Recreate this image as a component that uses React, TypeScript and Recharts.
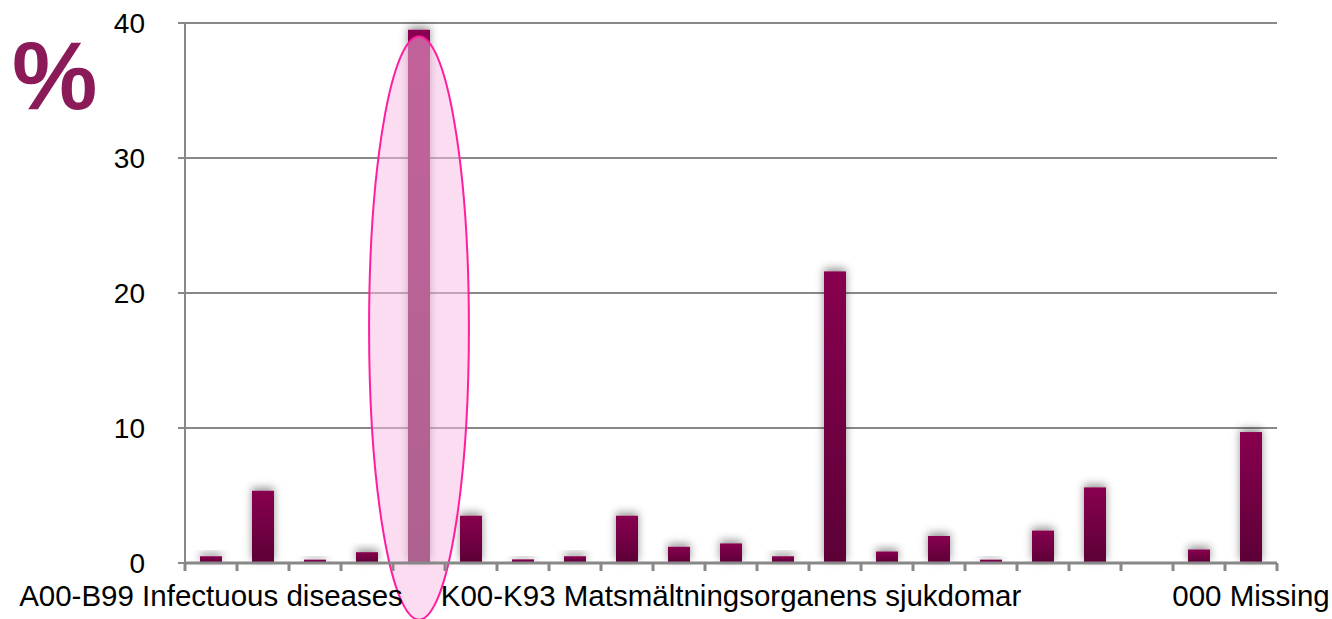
import React from "react";
import {
  BarChart,
  Bar,
  XAxis,
  YAxis,
  CartesianGrid,
  ReferenceArea,
} from "recharts";

// ICD chapter groups, in chart order
const categories = [
  "A00-B99 Infectuous diseases",
  "C00-D48",
  "D50-D89",
  "E00-E90",
  "F00-F99",
  "G00-G99",
  "H00-H59",
  "H60-H95",
  "I00-I99",
  "J00-J99",
  "K00-K93 Matsmältningsorganens sjukdomar",
  "L00-L99",
  "M00-M99",
  "N00-N99",
  "O00-O99",
  "P00-P96",
  "Q00-Q99",
  "R00-R99",
  "S00-T98",
  "V01-Y98",
  "000 Missing",
];

// share of cases, %
const percentages = [
  0.5, 5.35, 0.25, 0.8, 39.5, 3.5, 0.27, 0.5, 3.5, 1.2, 1.45, 0.5, 21.6, 0.85,
  2.0, 0.25, 2.4, 5.6, 0, 1.0, 9.7,
];

const yTicks = [0, 10, 20, 30, 40];

// every tenth category carries a text label
const labelEvery = 10;

// highlighted group and the vertical extent of its ring (in % units)
const highlightIndex = 4;
const ringRange = [-4.2, 39];

const data = categories.map((name, i) => ({ name, value: percentages[i] }));

const W = 1332;
const H = 619;
const LEFT = 185;
const RIGHT = 55;
const TOP = 23;
const X_AXIS_H = 56;
const BAND = (W - LEFT - RIGHT) / categories.length;

const GRID = "#888888";
const FONT = "'Liberation Sans', Arial, sans-serif";

const CategoryTick = (props: any) => {
  const { x, y, index } = props;
  const half = BAND / 2;
  const isLast = index === categories.length - 1;
  return (
    <g>
      <line x1={x - half} x2={x - half} y1={y} y2={y + 8} stroke={GRID} strokeWidth={3} />
      {isLast && (
        <line x1={x + half} x2={x + half} y1={y} y2={y + 8} stroke={GRID} strokeWidth={3} />
      )}
      {index % labelEvery === 0 && (
        <text
          x={x}
          y={y + 43}
          textAnchor="middle"
          fontSize={29.5}
          fontFamily={FONT}
          fill="#000"
        >
          {props.payload.value}
        </text>
      )}
    </g>
  );
};

const ShadowBar = (props: any) => {
  const { x, y, width, height } = props;
  if (!height || height <= 0) return null;
  return (
    <rect
      x={x}
      y={y}
      width={width}
      height={height}
      fill="url(#barFill)"
      filter="url(#barShadow)"
    />
  );
};

const Ring = (props: any) => {
  const { x, y, width, height } = props;
  return (
    <ellipse
      cx={x + width / 2}
      cy={y + height / 2}
      rx={width * 0.96}
      ry={height / 2}
      fill="rgba(250,188,226,0.52)"
      stroke="#ff1ea0"
      strokeWidth={2}
    />
  );
};

export default function App() {
  return (
    <div
      style={{
        position: "absolute",
        left: 0,
        top: 0,
        width: W,
        height: H,
        background: "#fff",
        fontFamily: FONT,
      }}
    >
      <BarChart
        width={W}
        height={H}
        data={data}
        margin={{ top: TOP, right: RIGHT, bottom: 0, left: 0 }}
        barSize={22}
      >
        <defs>
          <linearGradient id="barFill" x1="0" y1="0" x2="0" y2="1">
            <stop offset="0%" stopColor="#88004f" />
            <stop offset="100%" stopColor="#5c0036" />
          </linearGradient>
          <filter id="barShadow" x="-80%" y="-80%" width="260%" height="260%">
            <feGaussianBlur in="SourceAlpha" stdDeviation="4.5" />
            <feOffset dy="-3" result="blur" />
            <feFlood floodColor="#000" floodOpacity="0.42" />
            <feComposite in2="blur" operator="in" />
            <feMerge>
              <feMergeNode />
              <feMergeNode in="SourceGraphic" />
            </feMerge>
          </filter>
        </defs>
        <CartesianGrid vertical={false} stroke={GRID} strokeWidth={2} />
        <XAxis
          dataKey="name"
          interval={0}
          height={X_AXIS_H}
          tickLine={false}
          tickSize={0}
          tickMargin={0}
          axisLine={{ stroke: GRID, strokeWidth: 3 }}
          tick={<CategoryTick />}
        />
        <YAxis
          width={LEFT}
          domain={[0, 40]}
          ticks={yTicks}
          interval={0}
          tickSize={7}
          tickMargin={33}
          axisLine={{ stroke: GRID, strokeWidth: 2 }}
          tickLine={{ stroke: GRID, strokeWidth: 2 }}
          tick={{ fontSize: 28, fill: "#000", fontFamily: FONT }}
        />
        <Bar dataKey="value" isAnimationActive={false} shape={<ShadowBar />} />
        <ReferenceArea
          x1={categories[highlightIndex]}
          x2={categories[highlightIndex]}
          y1={ringRange[0]}
          y2={ringRange[1]}
          ifOverflow="visible"
          shape={<Ring />}
          {...({ zIndex: 450 } as any)}
        />
      </BarChart>
      <svg
        width={120}
        height={130}
        style={{ position: "absolute", left: 0, top: 0, overflow: "visible" }}
      >
        <text
          x={12}
          y={109}
          fontSize={96}
          fontWeight="bold"
          fontFamily={FONT}
          fill="#8a1a58"
        >
          %
        </text>
      </svg>
    </div>
  );
}
